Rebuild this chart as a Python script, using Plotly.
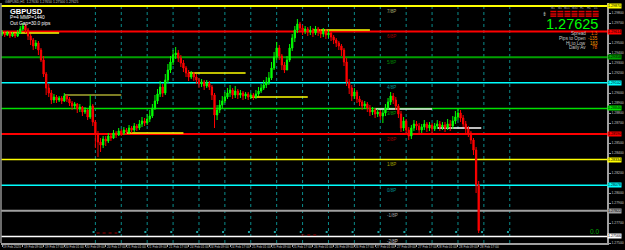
import plotly.graph_objects as go

# ---------------- DATA (GBPUSD H1, bar 0 = 19 Feb 2020 01:00) ----------------
first_open = 1.2959
closes = [
    1.2960, 1.2958, 1.2960, 1.2957, 1.2959, 1.2957, 1.2960, 1.2964, 1.2967, 1.2963,
    1.2957, 1.2953, 1.2947, 1.2950, 1.2943, 1.2933, 1.2919, 1.2905, 1.2900, 1.2893,
    1.2896, 1.2893, 1.2895, 1.2892, 1.2897, 1.2894, 1.2890, 1.2887, 1.2889, 1.2884,
    1.2886, 1.2881, 1.2883, 1.2876, 1.2887, 1.2871, 1.2859, 1.2851, 1.2848, 1.2854,
    1.2852, 1.2857, 1.2855, 1.2860, 1.2858, 1.2862, 1.2860, 1.2863, 1.2861, 1.2865,
    1.2863, 1.2867, 1.2865, 1.2869, 1.2872, 1.2870, 1.2874, 1.2877, 1.2885, 1.2892,
    1.2899, 1.2906, 1.2900, 1.2913, 1.2923, 1.2931, 1.2938, 1.2940, 1.2935, 1.2930,
    1.2925, 1.2920, 1.2916, 1.2919, 1.2916, 1.2913, 1.2909, 1.2911, 1.2907, 1.2910,
    1.2906, 1.2898, 1.2878, 1.2883, 1.2888, 1.2892, 1.2896, 1.2900, 1.2903, 1.2898,
    1.2902, 1.2898, 1.2900, 1.2897, 1.2899, 1.2896, 1.2898, 1.2896, 1.2899, 1.2902,
    1.2905, 1.2908, 1.2911, 1.2915, 1.2925, 1.2936, 1.2945, 1.2937, 1.2928, 1.2923,
    1.2933, 1.2945, 1.2955, 1.2963, 1.2969, 1.2965, 1.2962, 1.2964, 1.2961, 1.2963,
    1.2960, 1.2964, 1.2961, 1.2959, 1.2962, 1.2958, 1.2960, 1.2956, 1.2953, 1.2950,
    1.2947, 1.2943, 1.2931, 1.2911, 1.2905, 1.2897, 1.2901, 1.2894, 1.2891, 1.2887,
    1.2889, 1.2885, 1.2881, 1.2883, 1.2879, 1.2881, 1.2877, 1.2880, 1.2885, 1.2891,
    1.2897, 1.2893, 1.2887, 1.2879, 1.2865, 1.2872, 1.2863, 1.2857, 1.2865, 1.2869,
    1.2867, 1.2863, 1.2866, 1.2869, 1.2865, 1.2868, 1.2864, 1.2867, 1.2869, 1.2866,
    1.2868, 1.2865, 1.2869, 1.2867, 1.2872, 1.2876, 1.2880, 1.2875, 1.2869, 1.2864,
    1.2860, 1.2853, 1.2843, 1.2808, 1.27625,
]
highs = [
    1.2963, 1.2962, 1.2962, 1.2961, 1.2961, 1.2960, 1.2963, 1.2967, 1.2970, 1.2969,
    1.2965, 1.2959, 1.2955, 1.2953, 1.2952, 1.2945, 1.2937, 1.2921, 1.2909, 1.2903,
    1.2899, 1.2898, 1.2897, 1.2897, 1.2900, 1.2898, 1.2896, 1.2892, 1.2891, 1.2890,
    1.2889, 1.2887, 1.2886, 1.2884, 1.2898, 1.2889, 1.2873, 1.2862, 1.2855, 1.2857,
    1.2857, 1.2860, 1.2860, 1.2863, 1.2862, 1.2865, 1.2864, 1.2866, 1.2865, 1.2868,
    1.2867, 1.2870, 1.2869, 1.2873, 1.2876, 1.2875, 1.2879, 1.2883, 1.2889, 1.2898,
    1.2904, 1.2912, 1.2909, 1.2919, 1.2929, 1.2937, 1.2943, 1.2946, 1.2943, 1.2938,
    1.2933, 1.2927, 1.2923, 1.2922, 1.2921, 1.2919, 1.2915, 1.2914, 1.2913, 1.2913,
    1.2912, 1.2908, 1.2900, 1.2888, 1.2893, 1.2897, 1.2901, 1.2905, 1.2908, 1.2905,
    1.2907, 1.2904, 1.2903, 1.2902, 1.2901, 1.2901, 1.2900, 1.2900, 1.2903, 1.2906,
    1.2909, 1.2913, 1.2916, 1.2921, 1.2931, 1.2941, 1.2951, 1.2948, 1.2939, 1.2931,
    1.2937, 1.2949, 1.2959, 1.2967, 1.2974, 1.2971, 1.2968, 1.2967, 1.2966, 1.2967,
    1.2965, 1.2967, 1.2966, 1.2964, 1.2965, 1.2964, 1.2963, 1.2961, 1.2958, 1.2955,
    1.2952, 1.2949, 1.2945, 1.2935, 1.2914, 1.2908, 1.2905, 1.2903, 1.2897, 1.2893,
    1.2892, 1.2891, 1.2888, 1.2886, 1.2885, 1.2884, 1.2883, 1.2883, 1.2889, 1.2895,
    1.2901, 1.2900, 1.2896, 1.2889, 1.2882, 1.2876, 1.2874, 1.2866, 1.2868, 1.2873,
    1.2872, 1.2870, 1.2869, 1.2873, 1.2871, 1.2871, 1.2870, 1.2870, 1.2873, 1.2872,
    1.2871, 1.2871, 1.2874, 1.2873, 1.2877, 1.2882, 1.2885, 1.2883, 1.2878, 1.2872,
    1.2867, 1.2862, 1.2855, 1.2846, 1.2812,
]
lows = [
    1.2957, 1.2956, 1.2957, 1.2955, 1.2956, 1.2955, 1.2956, 1.2959, 1.2962, 1.2960,
    1.2953, 1.2948, 1.2943, 1.2944, 1.2938, 1.2931, 1.2916, 1.2898, 1.2896, 1.2889,
    1.2890, 1.2890, 1.2891, 1.2889, 1.2891, 1.2891, 1.2887, 1.2883, 1.2884, 1.2880,
    1.2881, 1.2877, 1.2879, 1.2873, 1.2874, 1.2867, 1.2845, 1.2836, 1.2841, 1.2845,
    1.2847, 1.2850, 1.2852, 1.2854, 1.2855, 1.2857, 1.2857, 1.2858, 1.2858, 1.2859,
    1.2860, 1.2861, 1.2862, 1.2863, 1.2866, 1.2867, 1.2868, 1.2871, 1.2875, 1.2883,
    1.2889, 1.2896, 1.2896, 1.2898, 1.2910, 1.2920, 1.2928, 1.2934, 1.2931, 1.2926,
    1.2921, 1.2916, 1.2912, 1.2914, 1.2912, 1.2909, 1.2905, 1.2906, 1.2903, 1.2905,
    1.2903, 1.2893, 1.2865, 1.2873, 1.2880, 1.2885, 1.2890, 1.2894, 1.2896, 1.2894,
    1.2895, 1.2894, 1.2895, 1.2893, 1.2894, 1.2893, 1.2894, 1.2893, 1.2894, 1.2897,
    1.2900, 1.2903, 1.2905, 1.2908, 1.2913, 1.2923, 1.2933, 1.2933, 1.2923, 1.2920,
    1.2923, 1.2931, 1.2942, 1.2951, 1.2960, 1.2961, 1.2958, 1.2959, 1.2957, 1.2958,
    1.2956, 1.2958, 1.2957, 1.2955, 1.2956, 1.2954, 1.2955, 1.2952, 1.2949, 1.2946,
    1.2943, 1.2937, 1.2927, 1.2907, 1.2899, 1.2892, 1.2894, 1.2890, 1.2887, 1.2883,
    1.2884, 1.2881, 1.2877, 1.2878, 1.2875, 1.2876, 1.2873, 1.2870, 1.2877, 1.2883,
    1.2888, 1.2889, 1.2883, 1.2875, 1.2861, 1.2862, 1.2859, 1.2853, 1.2854, 1.2862,
    1.2863, 1.2859, 1.2860, 1.2863, 1.2861, 1.2862, 1.2860, 1.2862, 1.2864, 1.2862,
    1.2863, 1.2861, 1.2863, 1.2862, 1.2864, 1.2869, 1.2873, 1.2871, 1.2866, 1.2860,
    1.2856, 1.2849, 1.2838, 1.2800, 1.2760,
]

# Murrey Math levels (top to bottom)
mm_levels = [1.29870, 1.29614, 1.29358, 1.29102, 1.28846, 1.28590, 1.28334, 1.28078, 1.27822, 1.27566]
mm_names = ["7/8P", "6/8P", "5/8P", "4/8P", "3/8P", "2/8P", "1/8P", "0/8P", "-1/8P", "-2/8P"]
mm_colors = ["#ffff00", "#ff0000", "#00a000", "#00ffff", "#00e000", "#ff0000", "#ffff00", "#00ffff", "#a0a0a0", "#ffffff"]
mm_widths = [2, 2, 2, 1.5, 1.5, 2, 1.5, 1.5, 2, 1.5]
mm_label_colors = ["#b0b070", "#a00000", "#008800", "#009090", "#00a000", "#a00000", "#a0a000", "#009090", "#a0a0a0", "#c0c0c0"]

# daily open segments
day_start_bars = [-1, 23, 47, 71, 95, 119, 143, 167]
day_open_prices = [1.2960, 1.2898, 1.2860, 1.2920, 1.2896, 1.2963, 1.2884, 1.2865]
day_open_colors = ["#ffff00", "#a8a830", "#ffff00", "#ffff00", "#ffff00", "#ffff00", "#e8e8e8", "#ffffff"]

# vertical dotted separators (bar index) and their small bottom markers
separator_bars = [36, 46, 56, 66, 76, 86, 96, 106, 116, 126, 136, 146, 156, 166, 176, 186, 196]
separator_marker_price = 1.2761
# dotted dark-red bottom segments: (start bar, end bar, price)
bottom_seg_start = [36.5, 115.5]
bottom_seg_end = [44.5, 122.5]
bottom_seg_price = [1.2760, 1.2758]

# time axis labels
time_tick_bars = [0, 8, 16, 24, 32, 40, 48, 56, 64, 72, 80, 88, 96, 104, 112, 120, 128, 136, 144, 152, 160, 168, 176, 184]
time_tick_text = ["19 Feb 2020", "19 Feb 09:00", "19 Feb 17:00", "20 Feb 01:00", "20 Feb 09:00", "20 Feb 17:00",
                  "21 Feb 01:00", "21 Feb 09:00", "21 Feb 17:00", "24 Feb 01:00", "24 Feb 09:00", "24 Feb 17:00",
                  "25 Feb 01:00", "25 Feb 09:00", "25 Feb 17:00", "26 Feb 01:00", "26 Feb 09:00", "26 Feb 17:00",
                  "27 Feb 01:00", "27 Feb 09:00", "27 Feb 17:00", "28 Feb 01:00", "28 Feb 09:00", "28 Feb 17:00"]

price_ticks = [1.2750, 1.2760, 1.2770, 1.2780, 1.2790, 1.2800, 1.2810, 1.2820, 1.2830, 1.2840, 1.2850, 1.2860,
               1.2870, 1.2880, 1.2890, 1.2900, 1.2910, 1.2920, 1.2930, 1.2940, 1.2950, 1.2960, 1.2970, 1.2980]

info_labels = ["Spread", "Pips to Open", "Hi to Low", "Daily Av"]
info_values = ["1.3", "-135", "163", "78"]
info_value_colors = ["#ff6a00", "#ff8c00", "#ffa000", "#ff6a00"]
tf_names = ["M1", "M5", "M15", "M30", "H1", "H4", "D1"]

# ---------------- FIGURE ----------------
W, H = 625, 250
ML, MR, MT, MB = 1, 14, 3, 7
PW, PH = W - ML - MR, H - MT - MB
BAR_PX = 2.607
FIRST_PX = 2.15
x0 = -(FIRST_PX - ML) / BAR_PX
x1 = x0 + PW / BAR_PX
F = "Liberation Sans, Arial"
PRICE_PER_PX = (1.2990 - 1.2750) / PH


def px(x):
    return (x - ML) / PW


def py(y):
    return 1 - (y - MT) / PH


n = len(closes)
bars = list(range(n))
opens = [first_open] + closes[:-1]
highs_c = [max(h, o, c) for h, o, c in zip(highs, opens, closes)]
lows_c = [min(l, o, c) for l, o, c in zip(lows, opens, closes)]

fig = go.Figure()

# dotted dark-red bottom segments
for s, e, p in zip(bottom_seg_start, bottom_seg_end, bottom_seg_price):
    fig.add_trace(go.Scatter(x=[s, e], y=[p, p], mode="lines", hoverinfo="skip", showlegend=False,
                             line=dict(color="#a00000", width=1, dash="dot")))
# separator markers
fig.add_trace(go.Scatter(x=[b - 0.7 for b in separator_bars], y=[separator_marker_price] * len(separator_bars),
                         mode="markers", hoverinfo="skip", showlegend=False,
                         marker=dict(symbol="square", size=2, color="#1aa0a0", line=dict(width=0))))

fig.add_trace(go.Candlestick(
    x=bars, open=opens, high=highs_c, low=lows_c, close=closes,
    increasing=dict(line=dict(color="#00ff00", width=1), fillcolor="#00ff00"),
    decreasing=dict(line=dict(color="#ff0000", width=1), fillcolor="#ff0000"),
    whiskerwidth=0, hoverinfo="skip", showlegend=False,
))

shapes = []
annotations = []

# separators
for b in separator_bars:
    shapes.append(dict(type="line", xref="x", yref="paper", x0=b, x1=b, y0=0, y1=1,
                       line=dict(color="#0a8a8a", width=1, dash="dot"), layer="below"))

# Murrey levels
for lv, nm, col, w, lc in zip(mm_levels, mm_names, mm_colors, mm_widths, mm_label_colors):
    shapes.append(dict(type="line", xref="paper", yref="y", x0=0, x1=1, y0=lv, y1=lv,
                       line=dict(color=col, width=w), layer="below"))
    annotations.append(dict(x=148, y=lv, xref="x", yref="y", text=nm, showarrow=False,
                            xanchor="left", yanchor="top", yshift=-0.5,
                            font=dict(size=4.5, color=lc, family=F)))
    annotations.append(dict(x=1.0, y=lv, xref="paper", yref="y", text=f"{lv:.5f}", showarrow=False,
                            xanchor="left", yanchor="middle", bgcolor=col, borderpad=0,
                            font=dict(size=3.6, color="#000000", family=F)))

# daily open segments
for sb, dp, dc in zip(day_start_bars, day_open_prices, day_open_colors):
    shapes.append(dict(type="line", xref="x", yref="y", x0=sb + 1, x1=min(sb + 23, n),
                       y0=dp, y1=dp, line=dict(color=dc, width=1.5), layer="below"))

# left border
shapes.append(dict(type="line", xref="paper", yref="paper", x0=0, x1=0, y0=0, y1=1,
                   line=dict(color="#909090", width=1.5)))

# time labels
for b, t in zip(time_tick_bars, time_tick_text):
    annotations.append(dict(x=b, y=py(246.5), xref="x", yref="paper", text=t, showarrow=False,
                            xanchor="left", yanchor="middle", xshift=-1,
                            font=dict(size=3.2, color="#c8c8c8", family=F)))

# price tick labels hidden behind level boxes (as in the terminal)
shown_ticks = [p for p in price_ticks if min(abs(p - lv) for lv in mm_levels) > 4 * PRICE_PER_PX]

# header
annotations.append(dict(x=px(3), y=py(2), xref="paper", yref="paper", showarrow=False, xanchor="left",
                        yanchor="middle", text="GBPUSD,H1  1.27630 1.27650 1.27500 1.27625",
                        font=dict(size=3.4, color="#c0c0c0", family=F)))
annotations.append(dict(x=px(8), y=py(11.5), xref="paper", yref="paper", showarrow=False, xanchor="left",
                        yanchor="middle", text="<b>GBPUSD</b>", font=dict(size=7.5, color="#ffffff", family=F)))
annotations.append(dict(x=px(8), y=py(17.8), xref="paper", yref="paper", showarrow=False, xanchor="left",
                        yanchor="middle", text="P=4 MMP=1440", font=dict(size=4.8, color="#ffffff", family=F)))
annotations.append(dict(x=px(8), y=py(23.5), xref="paper", yref="paper", showarrow=False, xanchor="left",
                        yanchor="middle", text="Out Gap=30.0 pips", font=dict(size=4.8, color="#ffffff", family=F)))

# top-right panel
for k, tf in enumerate(tf_names):
    annotations.append(dict(x=px(557 + 7.1 * k), y=py(7.5), xref="paper", yref="paper", showarrow=False,
                            xanchor="center", yanchor="middle", text=tf,
                            font=dict(size=2.8, color="#b0b0b0", family=F)))
    for r, yy in enumerate([10.8, 13.3, 15.4]):
        shapes.append(dict(type="rect", xref="paper", yref="paper", x0=px(554 + 7.1 * k), x1=px(560 + 7.1 * k),
                           y0=py(yy + 1.5), y1=py(yy), fillcolor="#e00000", line=dict(width=0)))
annotations.append(dict(x=px(548), y=py(13.5), xref="paper", yref="paper", showarrow=False, xanchor="center",
                        yanchor="middle", text="⇟", font=dict(size=6, color="#b0b0b0", family="DejaVu Sans")))
annotations.append(dict(x=px(603.5), y=py(24.2), xref="paper", yref="paper", showarrow=False, xanchor="right",
                        yanchor="middle", text="1.27625", font=dict(size=14.5, color="#00ff00", family=F)))
for k, (lab, val, vc) in enumerate(zip(info_labels, info_values, info_value_colors)):
    yy = 33.7 + 4.75 * k
    annotations.append(dict(x=px(592), y=py(yy), xref="paper", yref="paper", showarrow=False, xanchor="right",
                            yanchor="middle", text=lab, font=dict(size=4.6, color="#c8c8c8", family=F)))
    annotations.append(dict(x=px(603.5), y=py(yy), xref="paper", yref="paper", showarrow=False, xanchor="right",
                            yanchor="middle", text=val, font=dict(size=4.6, color=vc, family=F)))

annotations.append(dict(x=px(598), y=py(231), xref="paper", yref="paper", showarrow=False, xanchor="center",
                        yanchor="middle", text="0.0", font=dict(size=6.5, color="#00a000", family=F)))

fig.update_layout(
    width=W, height=H,
    margin=dict(l=ML, r=MR, t=MT, b=MB),
    paper_bgcolor="#000000", plot_bgcolor="#000000",
    shapes=shapes, annotations=annotations,
    showlegend=False,
    xaxis=dict(range=[x0, x1], rangeslider=dict(visible=False), showgrid=False, zeroline=False,
               showticklabels=False, ticks="outside", ticklen=2, tickcolor="#a0a0a0",
               tickvals=time_tick_bars, showline=True, linecolor="#a0a0a0", linewidth=1.5, fixedrange=True),
    yaxis=dict(range=[1.2750, 1.2990], side="right", showgrid=False, zeroline=False,
               tickvals=shown_ticks, ticktext=[f"{p:.5f}" for p in shown_ticks],
               tickfont=dict(size=3.4, color="#c8c8c8", family=F), ticks="outside", ticklen=2,
               tickcolor="#a0a0a0", showline=True, linecolor="#a0a0a0", linewidth=1.5, fixedrange=True),
)

fig.write_html("out.html")
